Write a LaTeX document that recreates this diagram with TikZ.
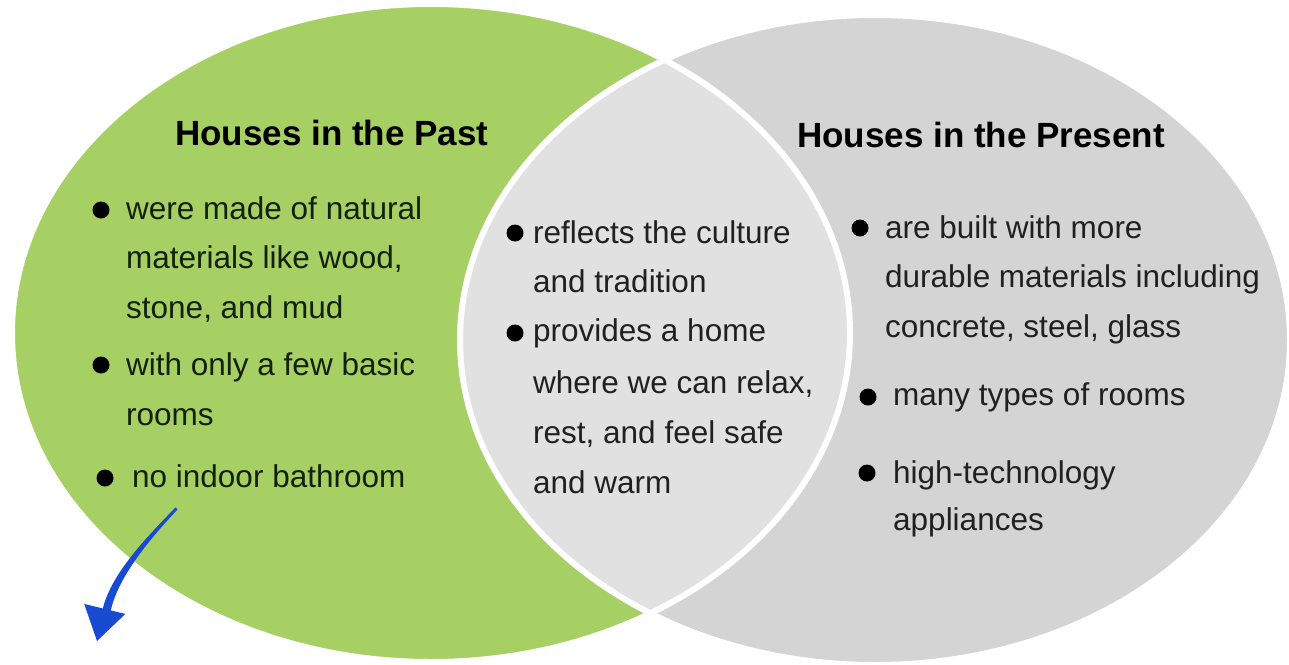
\documentclass[tikz,border=0pt]{standalone}
\usepackage{fontspec}
\setmainfont{Liberation Sans}
\usetikzlibrary{arrows.meta}
\definecolor{vgreen}{RGB}{166,208,100}
\definecolor{vgray}{RGB}{212,212,212}
\definecolor{vlight}{RGB}{225,225,225}
\definecolor{vblue}{RGB}{25,75,210}
\definecolor{txtL}{RGB}{20,32,10}
\definecolor{txtG}{RGB}{32,32,32}
\begin{document}
\begin{tikzpicture}[x=1pt,y=-1pt,
  ttl/.style={anchor=base west, inner sep=0pt, font=\fontsize{35}{42}\selectfont\bfseries, text=black},
  itemL/.style={anchor=base west, inner sep=0pt, font=\fontsize{31.5}{38}\selectfont, text=txtL},
  itemG/.style={anchor=base west, inner sep=0pt, font=\fontsize{31.5}{38}\selectfont, text=txtG},
  dot/.style={circle, fill=black, inner sep=0pt, minimum size=17pt},
  border/.style={draw=white, line width=6pt},
  arrowline/.style={draw=vblue, line width=1.5pt, -{Triangle[length=33pt,width=42pt]}}]
\useasboundingbox (0,0) rectangle (1289,664);
% ellipses
\fill[vgreen] (431,333) ellipse [x radius=419pt, y radius=329pt];
\fill[vgray] (875,340) ellipse [x radius=415pt, y radius=325pt];
\begin{scope}
  \clip (431,333) ellipse [x radius=419pt, y radius=329pt];
  \fill[vlight] (875,340) ellipse [x radius=415pt, y radius=325pt];
\end{scope}
\path[border] (431,333) ellipse [x radius=419pt, y radius=329pt];
\path[border] (875,340) ellipse [x radius=415pt, y radius=325pt];
% left
\node[ttl] (tL) at (175,145) {Houses in the Past};
\node[dot] (bL1) at (101,210) {};
\node[itemL] (l1) at (126,219) {were made of natural};
\node[itemL] (l2) at (126,268) {materials like wood,};
\node[itemL] (l3) at (126,318) {stone, and mud};
\node[dot] (bL2) at (101,365) {};
\node[itemL] (l4) at (126,375) {with only a few basic};
\node[itemL] (l5) at (126,425) {rooms};
\node[dot] (bL3) at (105,478) {};
\node[itemL] (l6) at (132,487) {no indoor bathroom};
% middle
\node[dot] (bM1) at (515,233) {};
\node[itemG] (m1) at (533,243) {reflects the culture};
\node[itemG] (m2) at (533,292) {and tradition};
\node[dot] (bM2) at (515,333) {};
\node[itemG] (m3) at (533,341) {provides a home};
\node[itemG] (m4) at (533,393) {where we can relax,};
\node[itemG] (m5) at (533,443) {rest, and feel safe};
\node[itemG] (m6) at (533,493) {and warm};
% right
\node[ttl] (tR) at (797,147) {Houses in the Present};
\node[dot] (bR1) at (860,228) {};
\node[itemG] (r1) at (885,238) {are built with more};
\node[itemG] (r2) at (885,287) {durable materials including};
\node[itemG] (r3) at (885,337) {concrete, steel, glass};
\node[dot] (bR2) at (868,397) {};
\node[itemG] (r4) at (893,405) {many types of rooms};
\node[dot] (bR3) at (867,473) {};
\node[itemG] (r5) at (893,483) {high-technology};
\node[itemG] (r6) at (893,530) {appliances};
% arrow (tapered shaft + head)
\coordinate (arrS) at (176,508);
\coordinate (arrE) at (97,641);
\fill[vblue] (arrS) .. controls (144,539) and (110,576) .. (102.5,610)
  -- (110.5,612) .. controls (117,579) and (147,542) .. (177.5,509.5) -- cycle;
\draw[arrowline] (arrS) .. controls (145,540) and (113,575) .. (arrE);
\end{tikzpicture}
\end{document}
